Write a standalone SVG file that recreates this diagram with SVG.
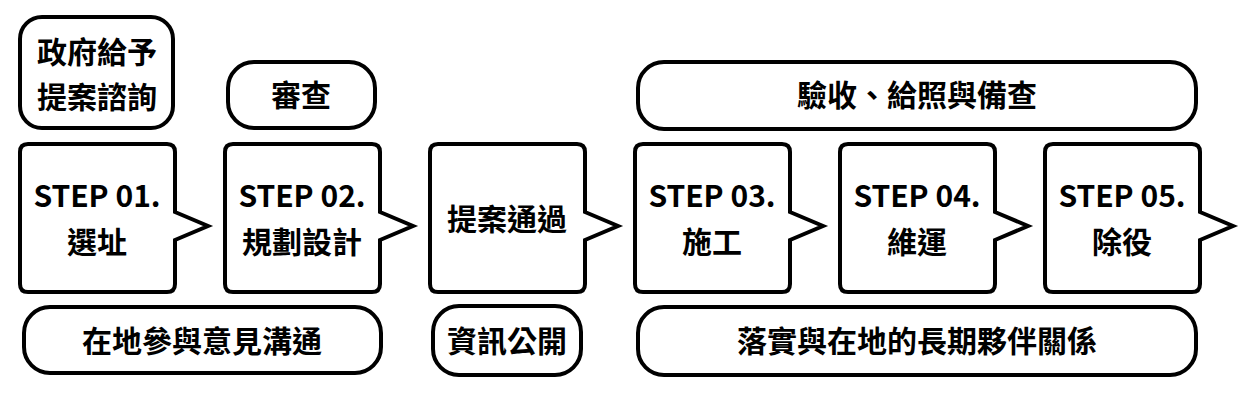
<svg xmlns="http://www.w3.org/2000/svg" width="1252" height="406" viewBox="0 0 1252 406">
<style>
.b{fill:#fff;stroke:#000;stroke-width:4;stroke-linejoin:miter}
.t{font-family:"Noto Sans CJK TC","Noto Sans CJK SC",sans-serif;font-weight:700;font-size:30px;fill:#000;text-anchor:middle}
</style>
<rect width="1252" height="406" fill="#fff"/>
<g id="note-consult"><rect class="b" x="20" y="17" width="153" height="111" rx="22"/><text class="t" x="97" y="63">政府給予</text><text class="t" x="97" y="108">提案諮詢</text></g>
<g id="note-review"><rect class="b" x="228" y="62" width="147" height="66" rx="26"/><text class="t" x="301" y="106">審查</text></g>
<g id="note-accept"><rect class="b" x="638" y="62" width="558" height="67" rx="26"/><text class="t" x="917" y="106">驗收、給照與備查</text></g>
<g id="note-local"><rect class="b" x="24" y="307" width="357" height="66" rx="26"/><text class="t" x="202" y="352">在地參與意見溝通</text></g>
<g id="note-public"><rect class="b" x="433" y="306" width="148" height="69" rx="26"/><text class="t" x="507" y="352">資訊公開</text></g>
<g id="note-partner"><rect class="b" x="638" y="307" width="558" height="68" rx="26"/><text class="t" x="917" y="352">落實與在地的長期夥伴關係</text></g>
<g id="connectors"></g>
<g id="step1"><path class="b" d="M28,144H167Q175,144 175,152V212L208,226L175,240V284Q175,292 167,292H28Q20,292 20,284V152Q20,144 28,144Z"/><text class="t" x="97" y="207">STEP 01.</text><text class="t" x="97" y="253">選址</text></g>
<g id="step2"><path class="b" d="M233,144H372Q380,144 380,152V212L413,226L380,240V284Q380,292 372,292H233Q225,292 225,284V152Q225,144 233,144Z"/><text class="t" x="302" y="207">STEP 02.</text><text class="t" x="302" y="253">規劃設計</text></g>
<g id="pass"><path class="b" d="M438,144H577Q585,144 585,152V212L618,226L585,240V284Q585,292 577,292H438Q430,292 430,284V152Q430,144 438,144Z"/><text class="t" x="507" y="230">提案通過</text></g>
<g id="step3"><path class="b" d="M643,144H782Q790,144 790,152V212L823,226L790,240V284Q790,292 782,292H643Q635,292 635,284V152Q635,144 643,144Z"/><text class="t" x="712" y="207">STEP 03.</text><text class="t" x="712" y="253">施工</text></g>
<g id="step4"><path class="b" d="M848,144H987Q995,144 995,152V212L1028,226L995,240V284Q995,292 987,292H848Q840,292 840,284V152Q840,144 848,144Z"/><text class="t" x="917" y="207">STEP 04.</text><text class="t" x="917" y="253">維運</text></g>
<g id="step5"><path class="b" d="M1053,144H1192Q1200,144 1200,152V212L1233,226L1200,240V284Q1200,292 1192,292H1053Q1045,292 1045,284V152Q1045,144 1053,144Z"/><text class="t" x="1122" y="207">STEP 05.</text><text class="t" x="1122" y="253">除役</text></g>
</svg>
